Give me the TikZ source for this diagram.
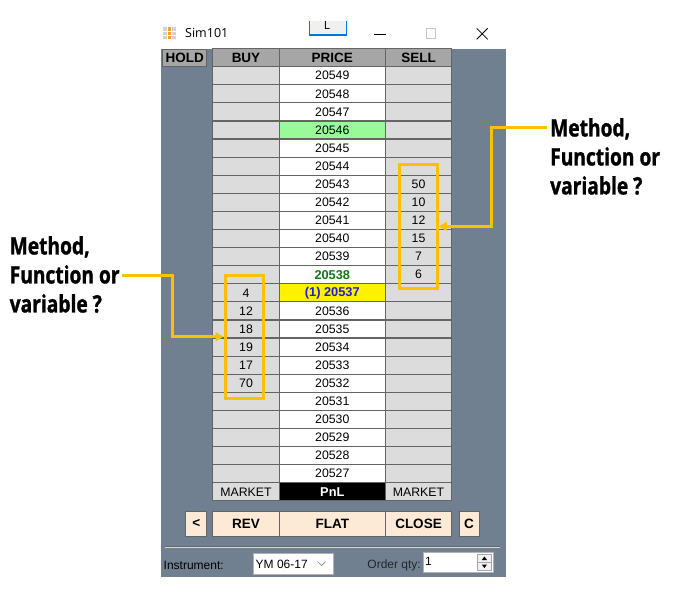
\documentclass[tikz,border=0pt]{standalone}
\usepackage{fontspec}
\setmainfont{Liberation Sans}
\newfontfamily\notefont[FakeStretch=0.8,FakeBold=1.2]{Open Sans}
\newfontfamily\titlefont{Open Sans}
\usetikzlibrary{arrows.meta}
\definecolor{panel}{RGB}{112,128,144}
\definecolor{hdr}{RGB}{166,166,166}
\definecolor{side}{RGB}{220,220,220}
\definecolor{gridline}{RGB}{100,100,100}
\definecolor{btnfill}{RGB}{252,234,214}
\definecolor{hilite}{RGB}{255,192,0}
\definecolor{lastgreen}{RGB}{20,120,20}
\definecolor{posblue}{RGB}{30,30,210}
\definecolor{bidgreen}{RGB}{152,251,152}
\definecolor{winblue}{RGB}{0,120,215}

\begin{document}
\begin{tikzpicture}[x=1pt,y=-1pt,
  cell/.style={draw=gridline,line width=1.2pt,inner sep=0pt,minimum height=18.09pt,font=\fontsize{12.3}{12.3}\selectfont},
  side/.style={cell,fill=side,minimum width=66.5pt},
  price/.style={cell,fill=white,minimum width=106pt},
  head/.style={cell,fill=hdr,font=\fontsize{13.5}{13.5}\selectfont\bfseries},
  btn/.style={draw=gridline,line width=1pt,fill=btnfill,inner sep=0pt,minimum height=25pt,font=\fontsize{13.5}{13.5}\selectfont\bfseries},
  qty/.style={inner sep=0pt,font=\fontsize{12.3}{12.3}\selectfont},
  hl/.style={draw=hilite,line width=3pt,inner sep=0pt},
  callout/.style={hilite,line width=3pt,-{Triangle[length=8pt,width=9pt]}},
  note/.style={align=left,anchor=north west,inner sep=0pt,font=\notefont\bfseries\fontsize{24}{29}\selectfont},
  small/.style={inner sep=0pt,font=\fontsize{12}{12}\selectfont},
  r4/.style={fill=bidgreen},
  r12/.style={text=lastgreen,font=\fontsize{12.8}{12.8}\selectfont\bfseries},
  r13/.style={fill=yellow,text=posblue,font=\fontsize{12.8}{12.8}\selectfont\bfseries}]
\useasboundingbox (0,0) rectangle (693,597);
\fill[panel] (161,48.5) rectangle (506,577.3);
\fill[gray!35] (163,26.7) rectangle (175.7,39);
\fill[orange!80] (167.2,26.7) rectangle (171.5,39);
\draw[white,line width=0.6pt] (163,30.8) -- (175.7,30.8) (163,34.9) -- (175.7,34.9) (167.2,26.7) -- (167.2,39) (171.5,26.7) -- (171.5,39);
\node[anchor=west,inner sep=0pt,font=\titlefont\fontsize{12.5}{12.5}\selectfont] (title) at (185,33) {Sim101};
\begin{scope}
\clip (300,21.7) rectangle (360,40);
\node[draw=winblue,fill=gray!12,line width=1.5pt,minimum width=37pt,minimum height=22pt,anchor=south west] (lbtn) at (308.8,35.5) {};
\node[anchor=base,inner sep=0pt,font=\titlefont\fontsize{12}{12}\selectfont] (lbtnlbl) at (327,29.5) {L};
\end{scope}
\draw[line width=0.8pt] (374,34) -- (386,34);
\draw[gray!45,line width=0.8pt] (426,28.8) rectangle (435.5,38.3);
\draw[line width=0.8pt] (476.7,28.3) -- (487.7,39.3) (476.7,39.3) -- (487.7,28.3);
\node[head,minimum width=44pt,minimum height=16.5pt,draw=gridline] (hold) at (184.7,58) {HOLD};
\node[head,minimum width=66.6pt] (buy-0) at (246,57.6) {BUY};
\node[head,minimum width=106pt] (price-0) at (332.3,57.6) {PRICE};
\node[head,minimum width=66.4pt] (sell-0) at (418.5,57.6) {SELL};
\foreach \i in {1,...,23}{
  \edef\p{\the\numexpr20550-\i\relax}
  \node[side] (buy-\i) at (246,{57.655+18.09*\i}) {};
  \node[price,r\i/.try] (price-\i) at (332.3,{57.655+18.09*\i}) {\ifnum\i=13 (1) \fi\p};
  \node[side] (sell-\i) at (418.5,{57.655+18.09*\i}) {};
}
\foreach \v [count=\k from 7] in {50,10,12,15,7,6}
  \node[qty] (sellq-\k) at (sell-\k) {\v};
\foreach \v [count=\k from 13] in {4,12,18,19,17,70}
  \node[qty] (buyq-\k) at (buy-\k) {\v};
\node[side] (buy-mkt) at (246,491.8) {MARKET};
\node[price,fill=black,text=white,font=\fontsize{12.8}{12.8}\selectfont\bfseries] (pnl) at (332.3,491.8) {PnL};
\node[side] (sell-mkt) at (418.5,491.8) {MARKET};
\node[btn,minimum width=20.7pt] (back) at (196.3,523.5) {<};
\node[btn,minimum width=66.4pt] (rev) at (246,523.5) {REV};
\node[btn,minimum width=106pt] (flat) at (332.3,523.5) {FLAT};
\node[btn,minimum width=66.4pt] (close) at (418.5,523.5) {CLOSE};
\node[btn,minimum width=20pt] (clear) at (469,523.5) {C};
\draw[gray!80!black,line width=0.8pt] (165,546.2) -- (500,546.2);
\draw[gray!30,line width=1.2pt] (165,547.4) -- (500,547.4);
\node[small,anchor=west] (instlbl) at (163.5,565) {Instrument:};
\node[draw=gray!60,fill=white,inner sep=0pt,minimum width=80pt,minimum height=21pt,anchor=north west] (combo) at (252.7,553.3) {};
\node[small,anchor=west] (combotxt) at (255.5,564) {YM 06-17};
\draw[gray,line width=0.7pt] (317.5,561.5) -- (321.5,565.5) -- (325.5,561.5);
\node[small,anchor=east,text=black!85] (qtylbl) at (421,565) {Order qty:};
\node[draw=gray!60,fill=white,inner sep=0pt,minimum width=70pt,minimum height=19.4pt,anchor=north west] (qtybox) at (422.7,552.3) {};
\node[small,anchor=west] (qtytxt) at (425,561) {1};
\draw[gray!70,fill=gray!10] (477.3,553.8) rectangle (491.5,562) (477.3,562) rectangle (491.5,570.4);
\fill (481.8,560) -- (487,560) -- (484.4,556.5) -- cycle (481.8,564.5) -- (487,564.5) -- (484.4,568) -- cycle;
\node[hl,minimum width=38.3pt,minimum height=124.7pt] (sellbox) at (418.2,226.4) {};
\node[hl,minimum width=38.3pt,minimum height=123.3pt] (buybox) at (244.2,336.7) {};
\node[note] (noteL) at (9.5,236) {Method,\\Function or\\variable ?};
\node[note] (noteR) at (550,118) {Method,\\Function or\\variable ?};
\coordinate (l0) at (122,275);
\coordinate (r0) at (546.7,127);
\draw[callout] (l0) -- ++(50,0) |- (buybox.west);
\draw[callout] (r0) -- ++(-55.7,0) |- (sellbox.east);
\end{tikzpicture}
\end{document}
